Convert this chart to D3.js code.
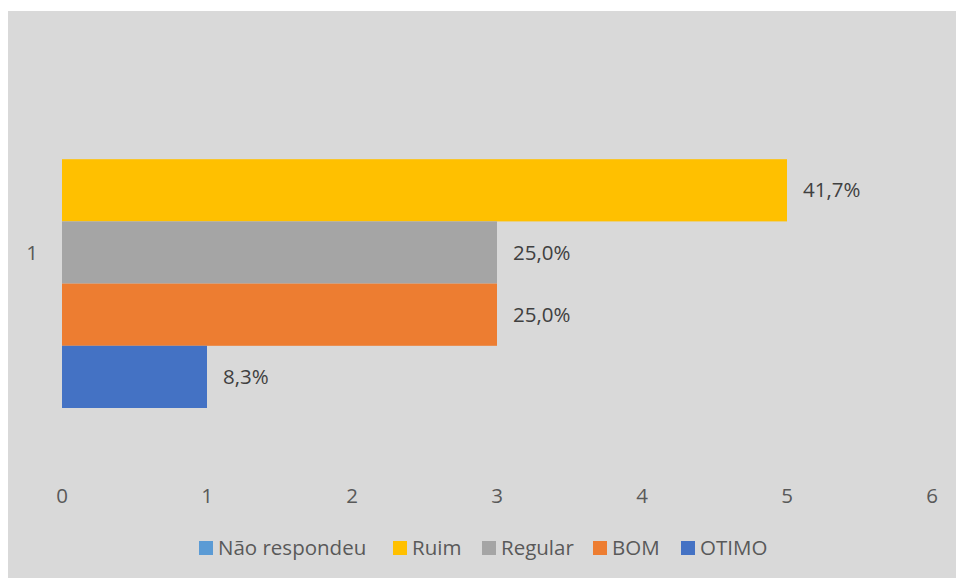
<!DOCTYPE html>
<html>
<head>
<meta charset="utf-8">
<script src="https://cdn.jsdelivr.net/npm/d3@7"></script>
<style>
  body { margin: 0; background: #fff; }
  svg text { font-family: 'Open Sans', 'DejaVu Sans', sans-serif; }
</style>
</head>
<body>
<svg class="some-chart" width="956" height="578"></svg>
<script>
// data
var categories = ['1'];
var seriesNames = ['Não respondeu', 'Ruim', 'Regular', 'BOM', 'OTIMO'];
var seriesValues = [0, 5, 3, 3, 1];
var seriesLabels = ['', '41,7%', '25,0%', '25,0%', '8,3%'];
var seriesColors = ['#5b9bd5', '#ffc000', '#a5a5a5', '#ed7d31', '#4472c4'];
var xTicks = [0, 1, 2, 3, 4, 5, 6];

var fontSize = 20.5;
var svg = d3.select('.some-chart');

// chart area background
svg.append('rect')
  .attr('x', 8).attr('y', 11)
  .attr('width', 948).attr('height', 567)
  .attr('fill', '#d9d9d9');

var x = d3.scaleLinear().domain([0, 6]).range([62, 932]);

var cat = d3.scaleBand().domain(categories).range([35, 470]);

categories.forEach(function(c) {
  var cy = cat(c) + cat.bandwidth() / 2;
  var y = d3.scaleBand().domain(seriesNames).range([cy - 155.5, cy + 155.5]).padding(0);

  var g = svg.selectAll('.bar')
    .data(seriesNames)
    .enter().append('g')
    .attr('class', 'bar');

  g.append('rect')
    .attr('x', x(0))
    .attr('y', function(d) { return y(d); })
    .attr('width', function(d, i) { return x(seriesValues[i]) - x(0); })
    .attr('height', y.bandwidth())
    .attr('fill', function(d, i) { return seriesColors[i]; });

  g.append('text')
    .attr('x', function(d, i) { return x(seriesValues[i]) + 16; })
    .attr('y', function(d) { return y(d) + y.bandwidth() / 2; })
    .attr('dy', '.35em')
    .attr('font-size', fontSize)
    .attr('fill', '#404040')
    .text(function(d, i) { return seriesLabels[i]; });

  // category label
  svg.append('text')
    .attr('x', 32)
    .attr('y', cy)
    .attr('dy', '.35em')
    .attr('text-anchor', 'middle')
    .attr('font-size', fontSize)
    .attr('fill', '#595959')
    .text(c);
});

// x tick labels
svg.selectAll('.tick-label')
  .data(xTicks)
  .enter().append('text')
  .attr('class', 'tick-label')
  .attr('x', function(d) { return x(d); })
  .attr('y', 496)
  .attr('dy', '.35em')
  .attr('text-anchor', 'middle')
  .attr('font-size', fontSize)
  .attr('fill', '#595959')
  .text(function(d) { return d; });

// legend
var legendX = [199, 393, 482, 593, 681];
var legend = svg.selectAll('.legend')
  .data(seriesNames)
  .enter().append('g')
  .attr('class', 'legend')
  .attr('transform', function(d, i) { return 'translate(' + legendX[i] + ',548)'; });

legend.append('rect')
  .attr('x', 0).attr('y', -7)
  .attr('width', 14).attr('height', 14)
  .attr('fill', function(d, i) { return seriesColors[i]; });

legend.append('text')
  .attr('x', 19)
  .attr('dy', '.35em')
  .attr('font-size', fontSize)
  .attr('fill', '#595959')
  .text(function(d) { return d; });
</script>
</body>
</html>
